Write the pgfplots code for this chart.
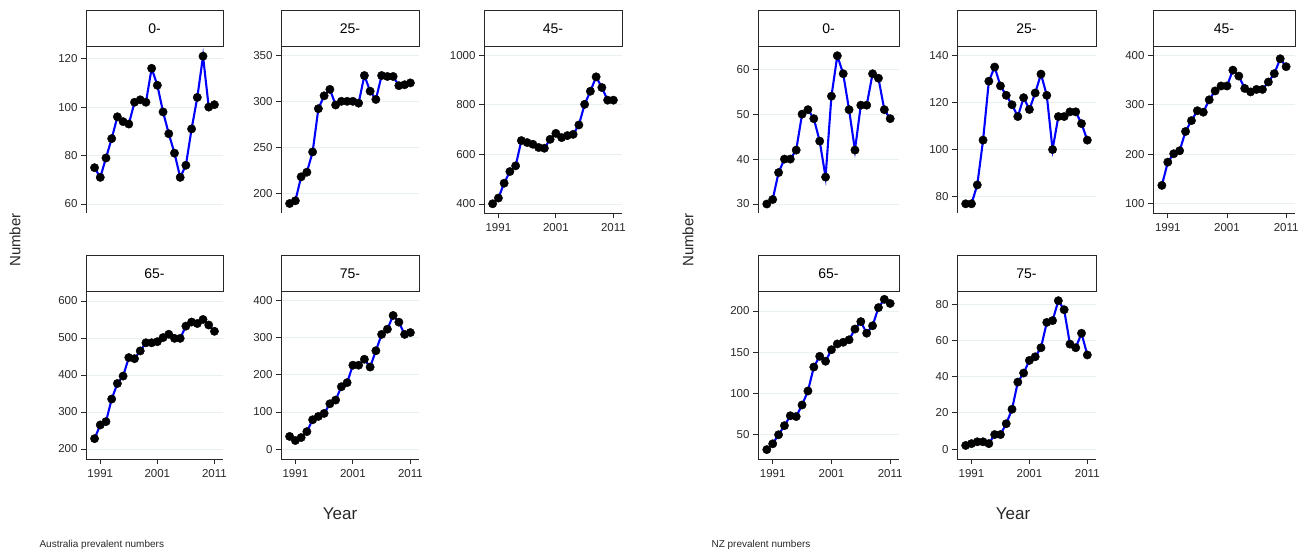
\documentclass[border=0pt]{standalone}
\usepackage{fontspec}
\setmainfont{Liberation Sans}
\usepackage{pgfplots}
\pgfplotsset{compat=1.18}
\usepackage{pgfplotstable}
\definecolor{gridc}{RGB}{232,240,242}
\definecolor{lineblue}{RGB}{0,0,255}
\definecolor{axc}{RGB}{40,40,40}

\pgfplotstableread{
year a0 a25 a45 a65 a75
1990 75 189 401 228 34
1991 71 192 424 265 23
1992 79 218 484 274 31
1993 87 223 531 335 47
1994 96 245 554 377 79
1995 94 292 656 397 88
1996 93 306 648 447 96
1997 102 313 641 444 122
1998 103 296 628 465 132
1999 102 300 625 487 168
2000 116 300 661 487 179
2001 109 300 685 490 226
2002 98 298 668 501 226
2003 89 328 676 510 242
2004 81 311 681 499 221
2005 71 302 719 499 265
2006 76 328 802 532 309
2007 91 327 855 543 323
2008 104 327 913 539 360
2009 121 317 870 550 342
2010 100 318 819 535 309
2011 101 320 819 518 314
}\AU

\pgfplotstableread{
year n0 n25 n45 n65 n75
1990 30 77 137 32 2
1991 31 77 184 39 3
1992 37 85 201 50 4
1993 40 104 207 61 4
1994 40 129 246 73 3
1995 42 135 268 72 8
1996 50 127 288 86 8
1997 51 123 285 103 14
1998 49 119 310 132 22
1999 44 114 328 145 37
2000 36 122 338 139 42
2001 54 117 338 153 49
2002 63 124 370 160 51
2003 59 132 358 162 56
2004 51 123 333 165 70
2005 42 100 326 178 71
2006 52 114 331 187 82
2007 52 114 331 173 77
2008 59 116 346 182 58
2009 58 116 363 204 56
2010 51 111 393 214 64
2011 49 104 377 209 52
}\NZ

\pgfplotsset{
 panel/.style={
   scale only axis, width=#1,
   xmin=1988.5, xmax=2012.5, xtick={1991,2001,2011},
   axis x line*=bottom, axis y line*=left,
   axis line style={line width=0.8pt, axc, -},
   tick style={line width=0.8pt, axc},
   tick align=outside, major tick length=5pt,
   minor tick num=0,
   ymajorgrids, grid style={gridc, line width=0.8pt},
   scaled ticks=false,
   /pgf/number format/1000 sep={},
   /pgf/number format/assume math mode=true,
   tick label style={font=\fontsize{11.5}{11.5}\selectfont, axc},
   xticklabel style={yshift=-2pt},
   every axis title/.style={at={(0.5,1)}, anchor=south, draw=axc, line width=0.8pt,
     fill=white, inner sep=0pt, minimum height=36pt, minimum width=#1,
     font=\fontsize{14}{14}\selectfont},
   clip=false,
 },
 toprow/.style={height=166pt},
 botrow/.style={height=167pt},
 mk/.style={only marks, mark=*, mark size=4.2pt, black},
 ln/.style={no marks, lineblue, line width=2.1pt},
}

\begin{document}
\begin{tikzpicture}
\useasboundingbox (0,0) rectangle (1310pt,554pt);

% ---------------- Australia ----------------
\begin{axis}[panel=137pt, toprow, at={(86pt,341pt)}, anchor=south west, hide x axis,
  ymin=56.3, ymax=124.8, ytick={60,80,100,120}, title={0-}]
 \addplot[mk] table[x=year,y=a0]{\AU};
 \addplot[ln] table[x=year,y=a0]{\AU};
\end{axis}
\begin{axis}[panel=138pt, toprow, at={(281pt,341pt)}, anchor=south west, hide x axis,
  ymin=178.7, ymax=359, ytick={200,250,300,350}, title={25-}]
 \addplot[mk] table[x=year,y=a25]{\AU};
 \addplot[ln] table[x=year,y=a25]{\AU};
\end{axis}
\begin{axis}[panel=138pt, toprow, at={(484pt,341pt)}, anchor=south west,
  ymin=363.8, ymax=1033.5, ytick={400,600,800,1000}, title={45-}]
 \addplot[mk] table[x=year,y=a45]{\AU};
 \addplot[ln] table[x=year,y=a45]{\AU};
\end{axis}
\begin{axis}[panel=137pt, botrow, at={(86pt,95pt)}, anchor=south west,
  ymin=173, ymax=624.2, ytick={200,300,400,500,600}, title={65-}]
 \addplot[mk] table[x=year,y=a65]{\AU};
 \addplot[ln] table[x=year,y=a65]{\AU};
\end{axis}
\begin{axis}[panel=138pt, botrow, at={(281pt,95pt)}, anchor=south west,
  ymin=-26.8, ymax=423.3, ytick={0,100,200,300,400}, title={75-}]
 \addplot[mk] table[x=year,y=a75]{\AU};
 \addplot[ln] table[x=year,y=a75]{\AU};
\end{axis}

\node[rotate=90, font=\fontsize{15}{15}\selectfont, axc] at (15pt,314pt) {Number};
\node[font=\fontsize{17}{17}\selectfont, axc] at (340pt,40pt) {Year};
\node[anchor=west, font=\fontsize{10}{10}\selectfont, axc] at (36pt,9pt) {Australia prevalent numbers};

% ---------------- New Zealand ----------------
\begin{axis}[panel=141pt, toprow, at={(758pt,341pt)}, anchor=south west, hide x axis,
  ymin=28.0, ymax=64.95, ytick={30,40,50,60}, title={0-}]
 \addplot[mk] table[x=year,y=n0]{\NZ};
 \addplot[ln] table[x=year,y=n0]{\NZ};
\end{axis}
\begin{axis}[panel=139pt, toprow, at={(957pt,341pt)}, anchor=south west, hide x axis,
  ymin=73.1, ymax=143.5, ytick={80,100,120,140}, title={25-}]
 \addplot[mk] table[x=year,y=n25]{\NZ};
 \addplot[ln] table[x=year,y=n25]{\NZ};
\end{axis}
\begin{axis}[panel=142pt, toprow, at={(1153pt,341pt)}, anchor=south west,
  ymin=81.2, ymax=416.8, ytick={100,200,300,400}, title={45-}]
 \addplot[mk] table[x=year,y=n45]{\NZ};
 \addplot[ln] table[x=year,y=n45]{\NZ};
\end{axis}
\begin{axis}[panel=141pt, botrow, at={(758pt,95pt)}, anchor=south west,
  ymin=20.6, ymax=222.9, ytick={50,100,150,200}, title={65-}]
 \addplot[mk] table[x=year,y=n65]{\NZ};
 \addplot[ln] table[x=year,y=n65]{\NZ};
\end{axis}
\begin{axis}[panel=139pt, botrow, at={(957pt,95pt)}, anchor=south west,
  ymin=-5.5, ymax=86.8, ytick={0,20,40,60,80}, title={75-}]
 \addplot[mk] table[x=year,y=n75]{\NZ};
 \addplot[ln] table[x=year,y=n75]{\NZ};
\end{axis}

\node[rotate=90, font=\fontsize{15}{15}\selectfont, axc] at (688pt,314pt) {Number};
\node[font=\fontsize{17}{17}\selectfont, axc] at (1013pt,40pt) {Year};
\node[anchor=west, font=\fontsize{10}{10}\selectfont, axc] at (708pt,9pt) {NZ prevalent numbers};
\end{tikzpicture}
\end{document}
